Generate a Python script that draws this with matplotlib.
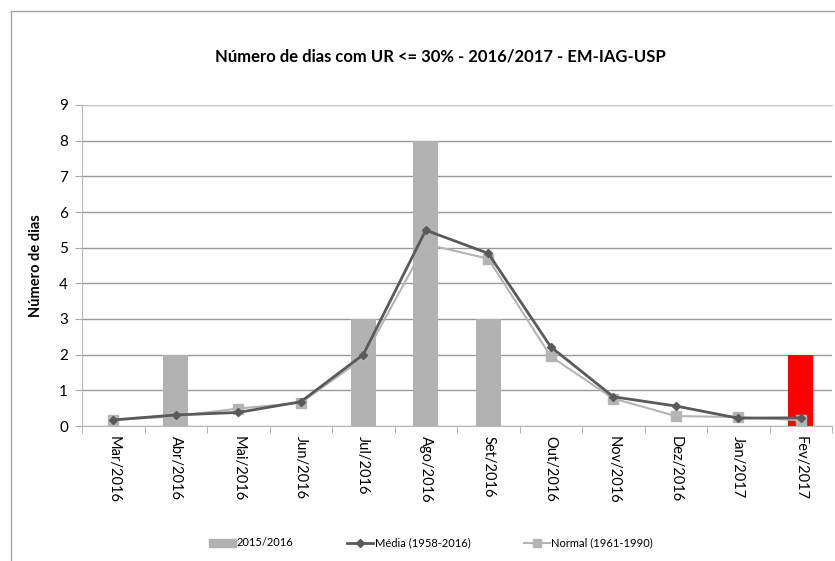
import matplotlib
matplotlib.use("Agg")
import matplotlib.pyplot as plt
from matplotlib.lines import Line2D
import numpy as np

plt.rcParams['font.family'] = ['Lato', 'DejaVu Sans']

months = ["Mar/2016", "Abr/2016", "Mai/2016", "Jun/2016", "Jul/2016", "Ago/2016",
          "Set/2016", "Out/2016", "Nov/2016", "Dez/2016", "Jan/2017", "Fev/2017"]
dias_2016 = [0, 2, 0, 0, 3, 8, 3, 0, 0, 0, 0, 2]
media = [0.17, 0.31, 0.38, 0.68, 2.0, 5.49, 4.84, 2.22, 0.82, 0.56, 0.22, 0.23]
normal = [0.17, 0.27, 0.49, 0.65, 1.9, 5.1, 4.69, 1.95, 0.77, 0.28, 0.25, 0.16]

W, H = 835, 561
fig = plt.figure(figsize=(W / 100, H / 100), dpi=100)

# chart frame (only left and top edges fall inside the canvas)
fig.add_artist(Line2D([10.5 / W, 10.5 / W], [0, 1 - 10.5 / H], transform=fig.transFigure,
                      color="#a6a6a6", lw=1.0))
fig.add_artist(Line2D([10.5 / W, 1], [1 - 10.5 / H, 1 - 10.5 / H], transform=fig.transFigure,
                      color="#a6a6a6", lw=1.0))

ax = fig.add_axes([82 / W, 1 - 426 / H, (832 - 82) / W, (426 - 105) / H])
x = np.arange(len(months))

bar_colors = ["#b2b2b2"] * (len(months) - 1) + ["#ff0000"]
ax.bar(x, dias_2016, width=0.4, color=bar_colors, zorder=2)
ax.plot(x, normal, color="#b4b4b4", lw=1.5, marker="s", markersize=6.5, zorder=3)
ax.plot(x, media, color="#5a5a5a", lw=2.0, marker="D", markersize=4.5, zorder=4)

ax.set_xlim(-0.5, len(months) - 0.5)
ax.set_ylim(0, 9)
ax.set_yticks(range(0, 10))
ax.yaxis.grid(True, color="#9a9a9a", lw=1.0, zorder=0)
ax.set_axisbelow(True)

ax.set_xticks(x)
ax.set_xticklabels(months, rotation=270, fontsize=10.5, color="#000000")
ax.set_xticks(np.arange(-0.5, len(months), 1), minor=True)
ax.tick_params(axis="x", which="major", length=0, pad=7)
ax.tick_params(axis="x", which="minor", length=5, color="#a6a6a6", direction="out")
ax.tick_params(axis="y", length=5, color="#a6a6a6", labelsize=11, pad=5)

ax.spines["right"].set_visible(False)
ax.spines["top"].set_color("#c8c8c8")
ax.spines["left"].set_color("#b8b8b8")
ax.spines["bottom"].set_color("#b8b8b8")

ax.set_ylabel("Número de dias", fontsize=10.5, fontweight="bold", labelpad=12)
fig.text(440 / W, 1 - 57 / H, "Número de dias com UR <= 30% - 2016/2017 - EM-IAG-USP",
         ha="center", va="center", fontsize=12, fontweight="bold")

handles = [
    plt.Rectangle((0, 0), 1, 1, color="#b2b2b2"),
    Line2D([], [], color="#5a5a5a", lw=2.0, marker="D", markersize=4),
    Line2D([], [], color="#b4b4b4", lw=1.5, marker="s", markersize=6),
]
labels = ["2015/2016", "Média (1958-2016)", "Normal (1961-1990)"]
fig.legend(handles, labels, loc="center", bbox_to_anchor=(431 / W, 1 - 543 / H), ncol=3,
           frameon=False, fontsize=8, columnspacing=4.8, handlelength=2.4,
           handletextpad=0.1)

fig.savefig("out.png", dpi=100)
